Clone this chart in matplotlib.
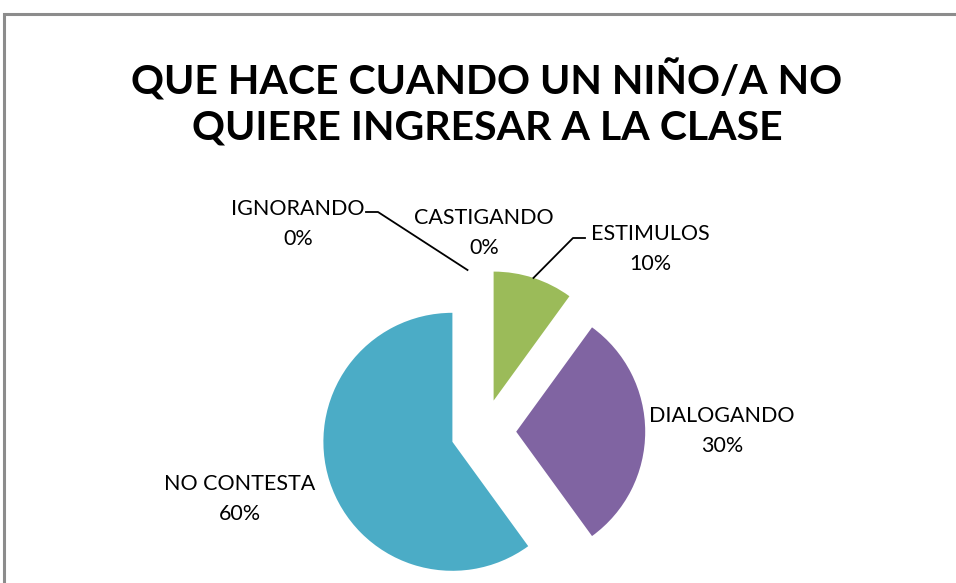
import matplotlib
matplotlib.use("Agg")
import matplotlib.pyplot as plt
import numpy as np
from matplotlib.patches import Rectangle

# data
categorias = ["IGNORANDO", "CASTIGANDO", "ESTIMULOS", "DIALOGANDO", "NO CONTESTA"]
valores = [0, 0, 10, 30, 60]
colores = ["#4F81BD", "#C0504D", "#9BBB59", "#8064A2", "#4BACC6"]
titulo = "QUE HACE CUANDO UN NIÑO/A NO\nQUIERE INGRESAR A LA CLASE"

plt.rcParams["font.family"] = ["Lato", "DejaVu Sans"]

W, H = 956, 583
fig = plt.figure(figsize=(W / 100, H / 100), dpi=100)
ax = fig.add_axes([0, 0, 1, 1])

# pixel-like coordinates, y up
centro = (483.5, H - 431.7)
radio = 129
sep = 32.7  # explode is in data units

wedges, _ = ax.pie(valores, colors=colores, startangle=90, counterclock=False,
                   explode=[sep] * len(valores), center=centro, radius=radio,
                   wedgeprops=dict(linewidth=0))
ax.set_xlim(0, W)
ax.set_ylim(0, H)
ax.set_aspect("equal")
ax.axis("off")

# label positions (x, y from top) for each category
pos_etiquetas = [(298, 224), (484, 233), (650, 249), (722, 431), (240, 499)]
total = sum(valores)
for w, cat, v, (px, py) in zip(wedges, categorias, valores, pos_etiquetas):
    ax.text(px, H - py, f"{cat}\n{v / total:.0%}", ha="center", va="center",
            fontsize=15.5, color="#000000", linespacing=1.65)

# leader lines
def punto_arco(w, frac=1.0):
    ang = np.deg2rad((w.theta1 + w.theta2) / 2)
    cx, cy = w.center
    return cx + w.r * frac * np.cos(ang), cy + w.r * frac * np.sin(ang)

# IGNORANDO
x0, y0 = punto_arco(wedges[0])
ax.plot([366, 378, x0 - 16], [H - 212, H - 212, y0], color="black", lw=1.3)
# ESTIMULOS
x2, y2 = punto_arco(wedges[2])
ax.plot([x2, 573, 585], [y2, H - 238, H - 238], color="black", lw=1.3)

fig.text(487 / W, 1 - 103 / H, titulo, ha="center", va="center",
         fontsize=29.5, fontweight="bold", linespacing=1.27)

# chart frame
fig.add_artist(Rectangle((4 / W, -0.1), 1.2, 1 - 14 / H + 0.1, transform=fig.transFigure,
                         fill=False, edgecolor="#8c8c8c", lw=2.2))

fig.savefig("out.png", dpi=100)
